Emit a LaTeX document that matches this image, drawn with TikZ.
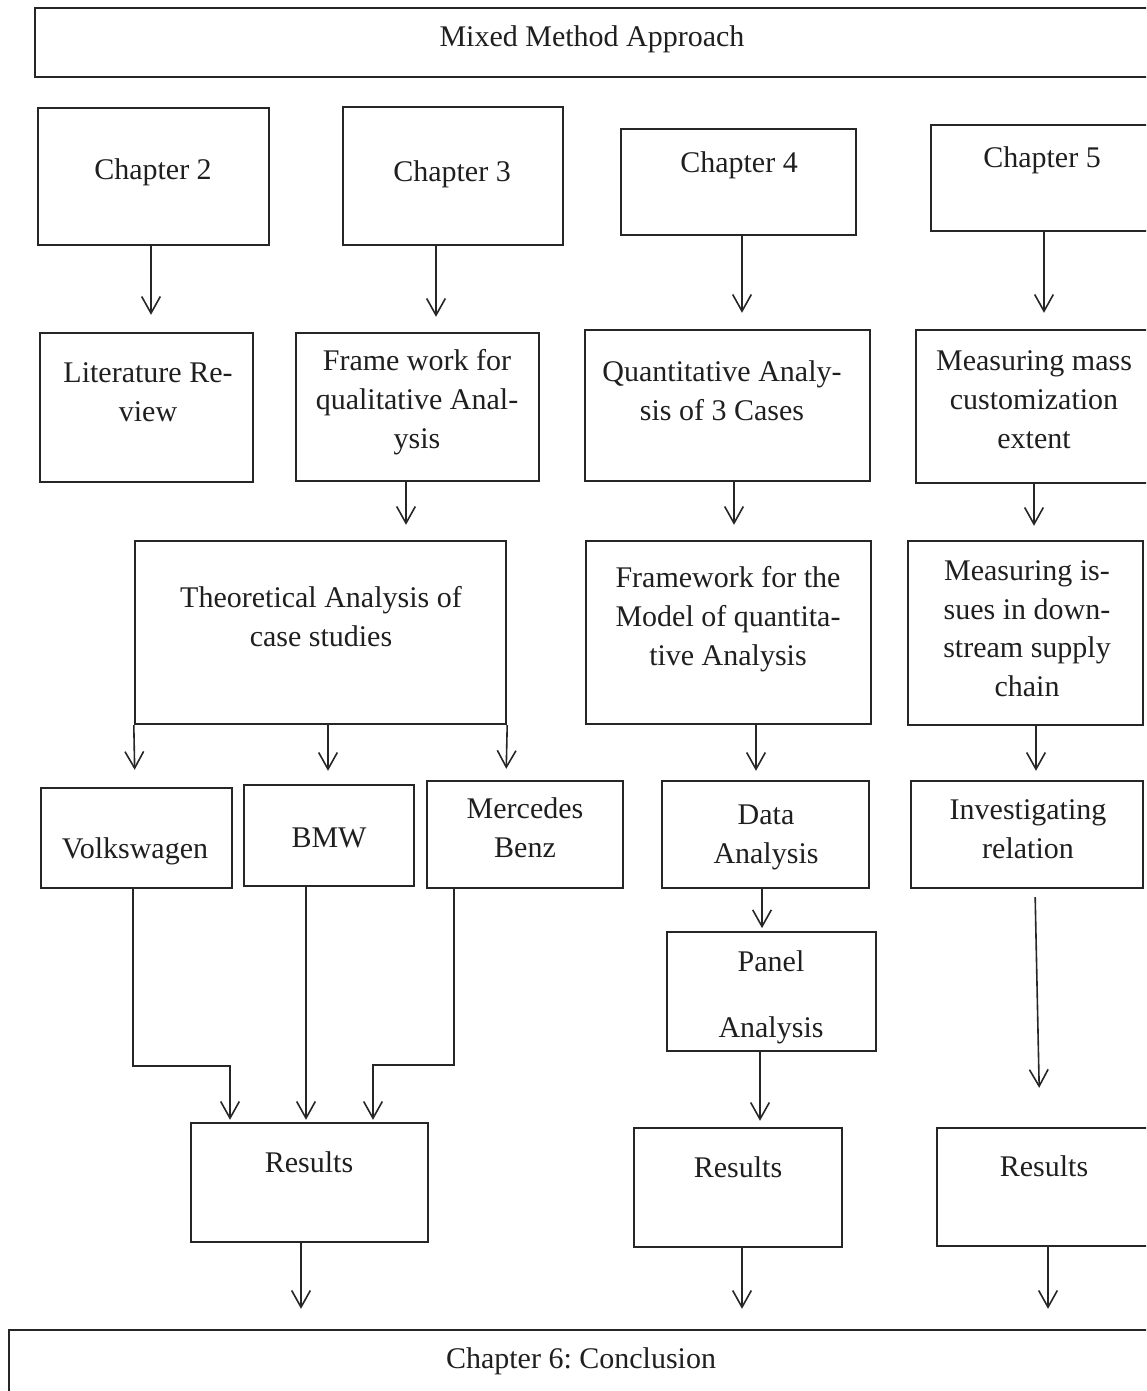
\documentclass[tikz,border=0pt]{standalone}
\usepackage{fontspec}
\setmainfont{Liberation Serif}
\frenchspacing
\usetikzlibrary{arrows.meta,fit}
\tikzset{
  box/.style={draw=black!85, line width=1.8pt, inner sep=0pt},
  lbl/.style={font=\fontsize{22.5}{28.9}\selectfont, align=center, inner sep=0pt, text=black!88, anchor=base},
  arr/.style={draw=black!85, line width=1.2pt,
    -{Straight Barb[length=12.5pt,width=14pt,line width=1.2pt]}}
}
% rectangle given by two corners: name, x1, y1, x2, y2
\newcommand\boxnode[5]{\node[box, fit={(#2,#3) (#4,#5)}] (#1) {};}
\begin{document}
\begin{tikzpicture}[x=0.75pt,y=-0.75pt]
\useasboundingbox (0,0) rectangle (1146,1391);
\clip (0,0) rectangle (1146,1391);

% ---------- boxes ----------
\boxnode{mma}{35}{8}{1160}{77}
\boxnode{ch2}{38}{108}{269}{245}
\boxnode{ch3}{343}{107}{563}{245}
\boxnode{ch4}{621}{129}{856}{235}
\boxnode{ch5}{931}{125}{1160}{231}
\boxnode{lit}{40}{333}{253}{482}
\boxnode{fwq}{296}{333}{539}{481}
\boxnode{qan}{585}{330}{870}{481}
\boxnode{mmc}{916}{330}{1160}{483}
\boxnode{theo}{135}{541}{506}{724}
\boxnode{fwm}{586}{541}{871}{724}
\boxnode{iss}{908}{541}{1143}{725}
\boxnode{vw}{41}{788}{232}{888}
\boxnode{bmw}{244}{785}{414}{886}
\boxnode{merc}{427}{781}{623}{888}
\boxnode{data}{662}{781}{869}{888}
\boxnode{inv}{911}{781}{1143}{888}
\boxnode{panel}{667}{932}{876}{1051}
\boxnode{resa}{191}{1123}{428}{1242}
\boxnode{resb}{634}{1128}{842}{1247}
\boxnode{resc}{937}{1128}{1160}{1246}
\boxnode{concl}{9}{1330}{1160}{1400}

% ---------- texts (anchored at the baseline of the last line) ----------
\node[lbl] (tmma) at (592,47) {Mixed Method Approach};
\node[lbl] (tch2) at (153,180) {Chapter 2};
\node[lbl] (tch3) at (452,181) {Chapter 3};
\node[lbl] (tch4) at (739,172) {Chapter 4};
\node[lbl] (tch5) at (1042,167) {Chapter 5};
\node[lbl] (tlit) at (148,421.5) {Literature Re-\\view};
\node[lbl] (tfwq) at (417,448) {Frame work for\\qualitative Anal-\\ysis};
\node[lbl] (tqan) at (722,420.5) {Quantitative Analy-\\sis of 3 Cases};
\node[lbl] (tmmc) at (1034,448) {Measuring mass\\customization\\extent};
\node[lbl] (ttheo) at (321,646.5) {Theoretical Analysis of\\case studies};
\node[lbl] (tfwm) at (728,665) {Framework for the\\Model of quantita-\\tive Analysis};
\node[lbl] (tiss) at (1027,696.5) {Measuring is-\\sues in down-\\stream supply\\chain};
\node[lbl] (tvw) at (135,858) {Volkswagen};
\node[lbl] (tbmw) at (329,847) {BMW};
\node[lbl] (tmerc) at (525,857.5) {Mercedes\\Benz};
\node[lbl] (tdata) at (766,863.5) {Data\\Analysis};
\node[lbl] (tinv) at (1028,858.5) {Investigating\\relation};
\node[lbl] (tpanel) at (771,1037) {Panel\\[20.6pt]Analysis};
\node[lbl] (tresa) at (309,1172) {Results};
\node[lbl] (tresb) at (738,1177) {Results};
\node[lbl] (tresc) at (1044,1176) {Results};
\node[lbl] (tconcl) at (581,1368) {Chapter 6: Conclusion};

% ---------- connectors ----------
\draw[arr, shorten >=12.75pt] (151,0 |- ch2.south) -- (151,0 |- lit.north);
\draw[arr, shorten >=11.25pt] (436,0 |- ch3.south) -- (436,0 |- fwq.north);
\draw[arr, shorten >=12pt] (742,0 |- ch4.south) -- (742,0 |- qan.north);
\draw[arr, shorten >=12pt] (1044,0 |- ch5.south) -- (1044,0 |- mmc.north);

\draw[arr, shorten >=11.25pt] (406,0 |- fwq.south) -- (406,0 |- theo.north);
\draw[arr, shorten >=11.25pt] (734,0 |- qan.south) -- (734,0 |- fwm.north);
\draw[arr, shorten >=10.5pt] (1034,0 |- mmc.south) -- (1034,0 |- iss.north);

\draw[arr, shorten >=12.75pt] (theo.south west) -- (135,0 |- vw.north);
\draw[arr, shorten >=9.75pt] (328,0 |- theo.south) -- (328,0 |- bmw.north);
\draw[arr, shorten >=8.25pt] (theo.south east) -- (506,0 |- merc.north);

\draw[arr, shorten >=6.75pt] (756,0 |- fwm.south) -- (756,0 |- data.north);
\draw[arr, shorten >=6.75pt] (1036,0 |- iss.south) -- (1036,0 |- inv.north);
\draw[arr, shorten >=2pt] (762,0 |- data.south) -- (762,0 |- panel.north);
\draw[arr, shorten >=4.5pt] (760,0 |- panel.south) -- (760,0 |- resb.north);
\draw[arr, shorten <=6pt, shorten >=29.25pt] (1035,0 |- inv.south) -- (1040,0 |- resc.north);

\coordinate (ja) at (133,1066);
\coordinate (jb) at (373,1065);
\draw[arr, shorten >=1.5pt] (133,0 |- vw.south) -- (ja) -- (230,0 |- ja) -- (230,0 |- resa.north);
\draw[arr, shorten >=1.5pt] (306,0 |- bmw.south) -- (306,0 |- resa.north);
\draw[arr, shorten >=1.5pt] (454,0 |- merc.south) -- (454,0 |- jb) -- (jb) -- (373,0 |- resa.north);

\draw[arr, shorten >=15pt] (301,0 |- resa.south) -- (301,0 |- concl.north);
\draw[arr, shorten >=15pt] (742,0 |- resb.south) -- (742,0 |- concl.north);
\draw[arr, shorten >=15pt] (1048,0 |- resc.south) -- (1048,0 |- concl.north);
\end{tikzpicture}
\end{document}
